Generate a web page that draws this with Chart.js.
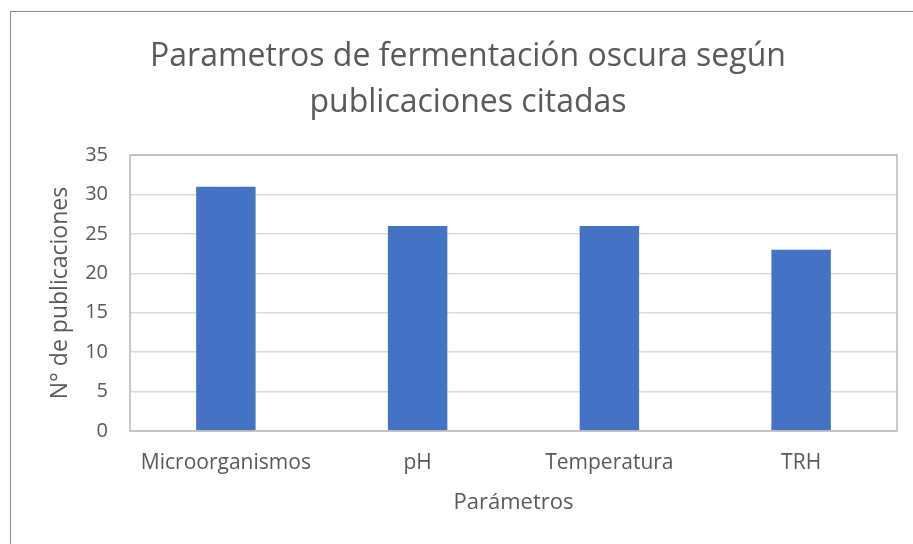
<!DOCTYPE html>
<html>
<head>
<meta charset="utf-8">
<script src="https://cdn.jsdelivr.net/npm/chart.js@4"></script>
<style>
  html, body { margin: 0; padding: 0; background: #fff; }
  #wrap { width: 913px; height: 544px; position: relative; }
</style>
</head>
<body>
<div id="wrap"><canvas id="chart" width="913" height="544"></canvas></div>
<script>
// datos
const categorias = ['Microorganismos', 'pH', 'Temperatura', 'TRH'];
const publicaciones = [31, 26, 26, 23];
const tituloLineas = ['Parametros de fermentación oscura según', 'publicaciones citadas'];

const textColor = '#595959';
const fontFam = '"Open Sans", Lato, sans-serif';

// marco exterior y borde del área de trazado
const framePlugin = {
    id: 'frame',
    beforeDraw(chart) {
        const ctx = chart.ctx;
        ctx.save();
        ctx.fillStyle = '#fff';
        ctx.fillRect(0, 0, chart.width, chart.height);
        ctx.strokeStyle = '#8c8c8c';
        ctx.lineWidth = 1;
        ctx.strokeRect(10.5, 11.5, 1000, 1000);
        ctx.restore();
    },
    afterDatasetsDraw(chart) {
        const a = chart.chartArea;
        const ctx = chart.ctx;
        ctx.save();
        ctx.strokeStyle = '#b8b8b8';
        ctx.lineWidth = 1.5;
        ctx.strokeRect(a.left, a.top, a.right - a.left, a.bottom - a.top);
        ctx.restore();
    }
};

new Chart(document.getElementById('chart'), {
    type: 'bar',
    data: {
        labels: categorias,
        datasets: [{
            label: 'N° de publicaciones',
            data: publicaciones,
            backgroundColor: '#4472C4',
            categoryPercentage: 1,
            barPercentage: 0.31
        }]
    },
    options: {
        responsive: false,
        animation: false,
        layout: { padding: { left: 23, right: 0, top: 0, bottom: 0 } },
        plugins: {
            legend: { display: false },
            tooltip: { enabled: false },
            title: {
                display: true,
                text: tituloLineas,
                color: textColor,
                font: { family: fontFam, size: 32, weight: 'normal', lineHeight: 1.44 },
                padding: { top: 34, bottom: 29 }
            }
        },
        scales: {
            x: {
                grid: { display: false, drawTicks: false },
                border: { display: false },
                ticks: { color: textColor, font: { family: fontFam, size: 21 }, padding: 19, maxRotation: 0 },
                title: {
                    display: true,
                    text: 'Parámetros',
                    color: textColor,
                    font: { family: fontFam, size: 22 },
                    padding: { top: 0, bottom: 28 }
                },
                afterFit(scale) { scale.height = 113; }
            },
            y: {
                min: 0,
                max: 35,
                grid: { color: '#d9d9d9', lineWidth: 1.5, drawTicks: false },
                border: { display: false },
                ticks: { stepSize: 5, color: textColor, font: { family: fontFam, size: 20 }, padding: 22 },
                title: {
                    display: true,
                    text: 'N° de publicaciones',
                    color: textColor,
                    font: { family: fontFam, size: 23 },
                    padding: { top: 24, bottom: 0 }
                },
                afterFit(scale) { scale.width = 107; }
            },
            // eje vacío a la derecha: solo reserva margen
            yDerecha: {
                position: 'right',
                grid: { display: false, drawTicks: false },
                border: { display: false },
                ticks: { display: false },
                afterFit(scale) { scale.width = 16; }
            }
        }
    },
    plugins: [framePlugin]
});
</script>
</body>
</html>
